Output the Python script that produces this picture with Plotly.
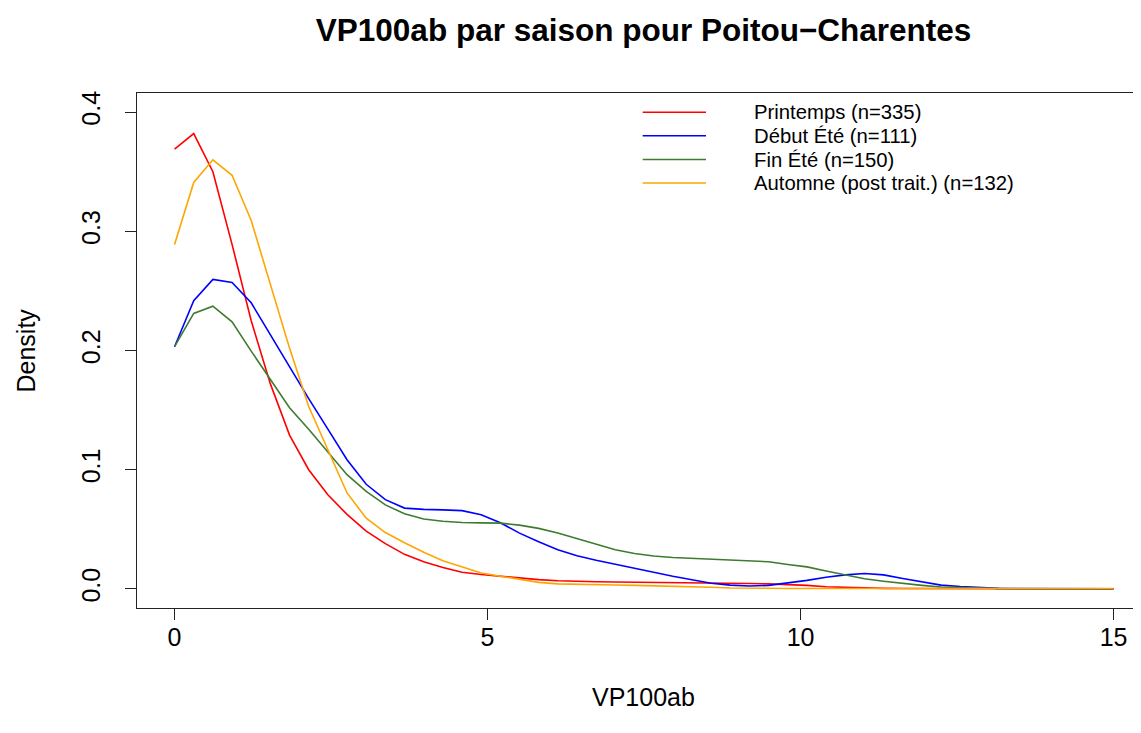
import numpy as np
import plotly.graph_objects as go

# ---- data (density estimates evaluated on a 50-point grid from 0 to 15) ----
grid_from, grid_to, grid_n = 0.0, 15.0, 50

printemps = [0.369, 0.382, 0.350, 0.289, 0.225, 0.172, 0.129, 0.100, 0.079, 0.0625,
             0.0485, 0.038, 0.029, 0.0227, 0.018, 0.014, 0.0121, 0.0105, 0.0093, 0.0078,
             0.0068, 0.0062, 0.006, 0.0058, 0.0057, 0.0056, 0.0055, 0.0054, 0.0052, 0.005,
             0.0046, 0.0042, 0.0037, 0.003, 0.0018, 0.0012, 0.0008, 0.0005, 0.0003, 0.0002,
             0.0002, 0.0001, 0.0001, 0.0001, 0.0001, 0.0001, 0.0001, 0.0001, 0.0001, 0.0001]

debut_ete = [0.2032, 0.2417, 0.2596, 0.257, 0.240, 0.213, 0.1863, 0.1596, 0.134, 0.1084,
             0.0878, 0.0749, 0.0678, 0.0667, 0.0663, 0.0657, 0.0622, 0.0555, 0.0468, 0.0395,
             0.0329, 0.0278, 0.024, 0.0205, 0.017, 0.0138, 0.0106, 0.0077, 0.0048, 0.0032,
             0.0024, 0.003, 0.0048, 0.0072, 0.0098, 0.0118, 0.013, 0.0118, 0.0088, 0.0057,
             0.0032, 0.002, 0.001, 0.0005, 0.0003, 0.0002, 0.0001, 0.0001, 0.0001, 0.0001]

fin_ete = [0.2032, 0.2311, 0.2372, 0.2241, 0.1995, 0.176, 0.152, 0.134, 0.1145, 0.0958,
           0.0818, 0.0705, 0.063, 0.0587, 0.0568, 0.0557, 0.0554, 0.0552, 0.0535, 0.0508,
           0.047, 0.0423, 0.0375, 0.0328, 0.0297, 0.0276, 0.0264, 0.0257, 0.0254, 0.0247,
           0.024, 0.0228, 0.0205, 0.0185, 0.015, 0.0115, 0.0085, 0.0065, 0.0045, 0.003,
           0.0016, 0.001, 0.0006, 0.0004, 0.0002, 0.0001, 0.0001, 0.0001, 0.0001, 0.0001]

automne = [0.289, 0.341, 0.360, 0.347, 0.309, 0.255, 0.202, 0.153, 0.116, 0.0805,
           0.0594, 0.0473, 0.0387, 0.0307, 0.0236, 0.0182, 0.0134, 0.0107, 0.008, 0.0055,
           0.0042, 0.0037, 0.0035, 0.0033, 0.003, 0.0027, 0.0024, 0.002, 0.0014, 0.0008,
           0.0005, 0.0004, 0.0004, 0.0003, 0.0003, 0.0003, 0.0003, 0.0003, 0.0003, 0.0003,
           0.0003, 0.0003, 0.0003, 0.0003, 0.0003, 0.0003, 0.0003, 0.0003, 0.0003, 0.0003]

series_names = ["Printemps (n=335)", "Début Été (n=111)", "Fin Été (n=150)",
                "Automne (post trait.) (n=132)"]
series_values = [printemps, debut_ete, fin_ete, automne]
series_colors = ["#FF0000", "#0000FF", "#3F7B2F", "#FFA500"]

x_ticks = [0, 5, 10, 15]
y_ticks = [0.0, 0.1, 0.2, 0.3, 0.4]

title_text = "VP100ab par saison pour Poitou\u2212Charentes"
x_label = "VP100ab"
y_label = "Density"

# ---- layout geometry (target positions are page pixels; page has an 8px body margin) ----
OFF = 8
W, H = 1141 - OFF, 733 - OFF
PLOT_L, PLOT_T, PLOT_B = 137, 93, 608          # page pixels
ML, MR, MT = PLOT_L - OFF, 0, PLOT_T - OFF
MB = H - (PLOT_B - OFF)
PW, PH = W - ML - MR, H - MT - MB
FONT = "Liberation Sans, Arial, Helvetica, sans-serif"
X_PX_PER_UNIT = 62.6


def px_x(px):
    return (px - PLOT_L) / PW


def px_y(py):
    return (PLOT_B - py) / PH


grid = np.linspace(grid_from, grid_to, grid_n)

fig = go.Figure()
for name, vals, col in zip(series_names, series_values, series_colors):
    fig.add_trace(go.Scatter(x=grid, y=vals, mode="lines", name=name,
                             line=dict(color=col, width=1.6), showlegend=False))

shapes = []
annotations = []
legend_rows_y = [112.3, 135.8, 159.5, 183.0]
for name, col, ry in zip(series_names, series_colors, legend_rows_y):
    shapes.append(dict(type="line", xref="paper", yref="paper",
                       x0=px_x(642.7), x1=px_x(706), y0=px_y(ry), y1=px_y(ry),
                       line=dict(color=col, width=1.6)))
    annotations.append(dict(text=name, xref="paper", yref="paper", x=px_x(751.5),
                            y=px_y(ry), xanchor="left", yanchor="middle", showarrow=False,
                            font=dict(family=FONT, size=20.3, color="black")))

annotations.append(dict(text=x_label, xref="paper", yref="paper", x=px_x(643.6), y=px_y(697),
                        xanchor="center", yanchor="middle", showarrow=False,
                        font=dict(family=FONT, size=25, color="black")))
annotations.append(dict(text=y_label, xref="paper", yref="paper", x=px_x(25), y=px_y(350.5),
                        xanchor="center", yanchor="middle", showarrow=False, textangle=-90,
                        font=dict(family=FONT, size=25, color="black")))

fig.update_layout(
    width=W, height=H,
    margin=dict(l=ML, r=MR, t=MT, b=MB, pad=0),
    paper_bgcolor="white", plot_bgcolor="white",
    title=dict(text="<b>" + title_text + "</b>", x=(643.6 - OFF) / W,
               xref="container", xanchor="center", y=1 - (30 - OFF) / H, yref="container",
               yanchor="middle", font=dict(family=FONT, size=31.5, color="black")),
    xaxis=dict(range=[-0.6, -0.6 + PW / X_PX_PER_UNIT], tickvals=x_ticks,
               ticktext=[str(t) for t in x_ticks],
               ticks="outside", ticklen=11, tickwidth=1, tickcolor="#222",
               ticklabelstandoff=-4,
               showline=True, linecolor="#222", linewidth=1, mirror=True,
               showgrid=False, zeroline=False, automargin=False,
               tickfont=dict(family=FONT, size=25, color="black")),
    yaxis=dict(range=[-0.016, 0.416], tickvals=y_ticks, ticktext=["%.1f" % t for t in y_ticks],
               ticks="outside", ticklen=11, tickwidth=1, tickcolor="#222", tickangle=-90,
               ticklabelstandoff=15,
               showline=True, linecolor="#222", linewidth=1, mirror=False,
               showgrid=False, zeroline=False, automargin=False,
               tickfont=dict(family=FONT, size=25, color="black")),
    shapes=shapes,
    annotations=annotations,
    showlegend=False,
)

fig.write_html("out.html")
